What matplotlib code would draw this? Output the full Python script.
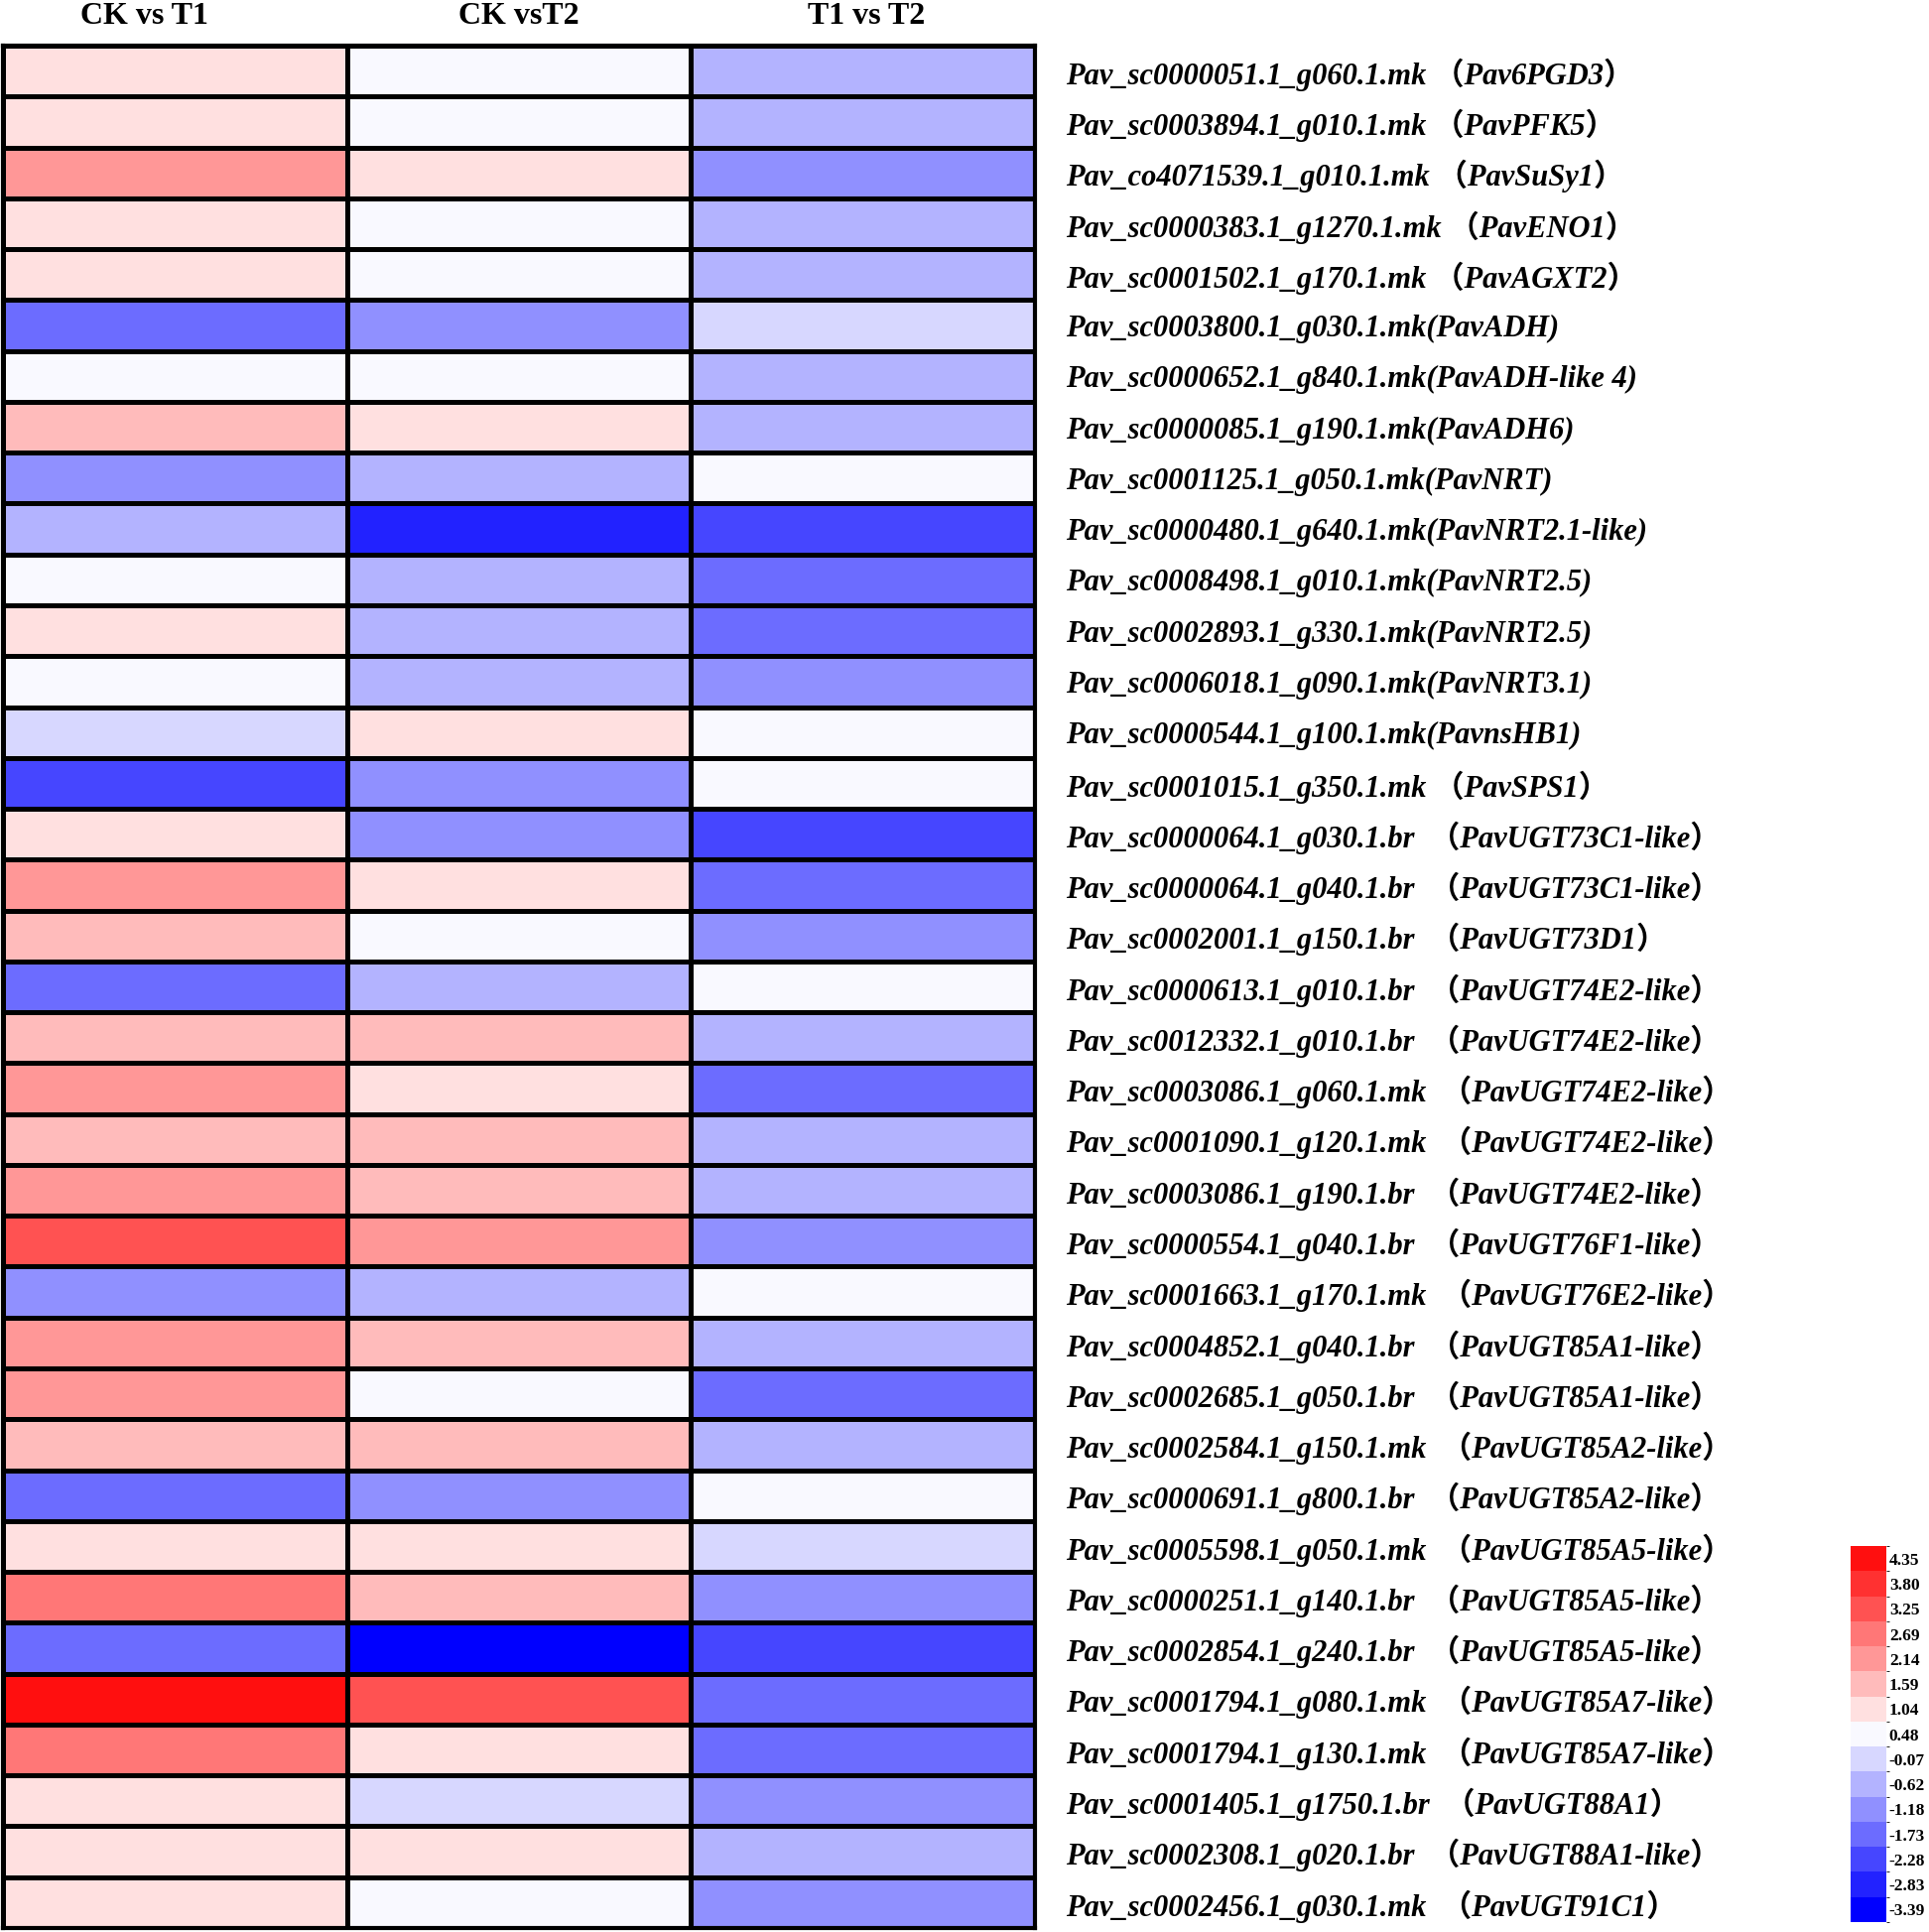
import numpy as np
import matplotlib
matplotlib.use("Agg")
import matplotlib.pyplot as plt
from matplotlib.colors import ListedColormap, BoundaryNorm

# comparaciones (columnas)
comparisons = ["CK vs T1", "CK vsT2", "T1 vs T2"]

genes = [
    "Pav_sc0000051.1_g060.1.mk （Pav6PGD3）",
    "Pav_sc0003894.1_g010.1.mk （PavPFK5）",
    "Pav_co4071539.1_g010.1.mk （PavSuSy1）",
    "Pav_sc0000383.1_g1270.1.mk （PavENO1）",
    "Pav_sc0001502.1_g170.1.mk （PavAGXT2）",
    "Pav_sc0003800.1_g030.1.mk(PavADH)",
    "Pav_sc0000652.1_g840.1.mk(PavADH-like 4)",
    "Pav_sc0000085.1_g190.1.mk(PavADH6)",
    "Pav_sc0001125.1_g050.1.mk(PavNRT)",
    "Pav_sc0000480.1_g640.1.mk(PavNRT2.1-like)",
    "Pav_sc0008498.1_g010.1.mk(PavNRT2.5)",
    "Pav_sc0002893.1_g330.1.mk(PavNRT2.5)",
    "Pav_sc0006018.1_g090.1.mk(PavNRT3.1)",
    "Pav_sc0000544.1_g100.1.mk(PavnsHB1)",
    "Pav_sc0001015.1_g350.1.mk （PavSPS1）",
    "Pav_sc0000064.1_g030.1.br  （PavUGT73C1-like）",
    "Pav_sc0000064.1_g040.1.br  （PavUGT73C1-like）",
    "Pav_sc0002001.1_g150.1.br  （PavUGT73D1）",
    "Pav_sc0000613.1_g010.1.br  （PavUGT74E2-like）",
    "Pav_sc0012332.1_g010.1.br  （PavUGT74E2-like）",
    "Pav_sc0003086.1_g060.1.mk  （PavUGT74E2-like）",
    "Pav_sc0001090.1_g120.1.mk  （PavUGT74E2-like）",
    "Pav_sc0003086.1_g190.1.br  （PavUGT74E2-like）",
    "Pav_sc0000554.1_g040.1.br  （PavUGT76F1-like）",
    "Pav_sc0001663.1_g170.1.mk  （PavUGT76E2-like）",
    "Pav_sc0004852.1_g040.1.br  （PavUGT85A1-like）",
    "Pav_sc0002685.1_g050.1.br  （PavUGT85A1-like）",
    "Pav_sc0002584.1_g150.1.mk  （PavUGT85A2-like）",
    "Pav_sc0000691.1_g800.1.br  （PavUGT85A2-like）",
    "Pav_sc0005598.1_g050.1.mk  （PavUGT85A5-like）",
    "Pav_sc0000251.1_g140.1.br  （PavUGT85A5-like）",
    "Pav_sc0002854.1_g240.1.br  （PavUGT85A5-like）",
    "Pav_sc0001794.1_g080.1.mk  （PavUGT85A7-like）",
    "Pav_sc0001794.1_g130.1.mk  （PavUGT85A7-like）",
    "Pav_sc0001405.1_g1750.1.br  （PavUGT88A1）",
    "Pav_sc0002308.1_g020.1.br  （PavUGT88A1-like）",
    "Pav_sc0002456.1_g030.1.mk  （PavUGT91C1）",
]

ck_t1 = [1.04, 1.04, 2.14, 1.04, 1.04, -1.73, 0.48, 1.59, -1.18, -0.62,
         0.48, 1.04, 0.48, -0.07, -2.28, 1.04, 2.14, 1.59, -1.73, 1.59,
         2.14, 1.59, 2.14, 3.25, -1.18, 2.14, 2.14, 1.59, -1.73, 1.04,
         2.69, -1.73, 4.35, 2.69, 1.04, 1.04, 1.04]
ck_t2 = [0.48, 0.48, 1.04, 0.48, 0.48, -1.18, 0.48, 1.04, -0.62, -2.83,
         -0.62, -0.62, -0.62, 1.04, -1.18, -1.18, 1.04, 0.48, -0.62, 1.59,
         1.04, 1.59, 1.59, 2.14, -0.62, 1.59, 0.48, 1.59, -1.18, 1.04,
         1.59, -3.39, 3.25, 1.04, -0.07, 1.04, 0.48]
t1_t2 = [-0.62, -0.62, -1.18, -0.62, -0.62, -0.07, -0.62, -0.62, 0.48, -2.28,
         -1.73, -1.73, -1.18, 0.48, 0.48, -2.28, -1.73, -1.18, 0.48, -0.62,
         -1.73, -0.62, -0.62, -1.18, 0.48, -0.62, -1.73, -0.62, 0.48, -0.07,
         -1.18, -2.28, -1.73, -1.73, -1.18, -0.62, -1.18]

# escala de color (de arriba hacia abajo en la barra)
levels = [4.35, 3.80, 3.25, 2.69, 2.14, 1.59, 1.04, 0.48,
          -0.07, -0.62, -1.18, -1.73, -2.28, -2.83, -3.39]
level_colors = ["#ff0f0f", "#ff3131", "#ff5252", "#ff7777", "#ff9797",
                "#ffbbbb", "#ffe0e0", "#f9f9ff", "#d7d7ff", "#b3b3ff",
                "#9090ff", "#6c6cff", "#4646ff", "#2222ff", "#0000ff"]

lv = np.array(levels[::-1])
bounds = np.concatenate([[lv[0] - 0.28], (lv[:-1] + lv[1:]) / 2, [lv[-1] + 0.28]])
cmap = ListedColormap(level_colors[::-1])
norm = BoundaryNorm(bounds, cmap.N)

data = np.column_stack([ck_t1, ck_t2, t1_t2])

W, H = 1944, 1947
fig = plt.figure(figsize=(W / 100, H / 100), dpi=100)
ax = fig.add_axes([3 / W, 1 - 1943 / H, 1040 / W, 1897 / H])

ax.pcolormesh(data, cmap=cmap, norm=norm, edgecolors="black", linewidth=2.4)
ax.set_xlim(0, 3)
ax.set_ylim(len(genes), 0)
for s in ax.spines.values():
    s.set_linewidth(3)

serif = ["Liberation Serif", "Noto Sans CJK SC", "DejaVu Serif"]

# encabezados (el primero algo desplazado a la izquierda como en el original)
ax.xaxis.tick_top()
ax.set_xticks([0.41, 1.5, 2.51])
ax.set_xticklabels(comparisons, fontsize=23, fontweight="bold", family=serif)
ax.tick_params(axis="x", length=0, pad=11)

ax.yaxis.tick_right()
ax.set_yticks(np.arange(len(genes)) + 0.5)
ax.set_yticklabels(genes, fontsize=22, fontweight="bold", style="italic", family=serif)
ax.tick_params(axis="y", length=0, pad=22)

# barra de color
cax = fig.add_axes([1865 / W, 1 - 1937 / H, 36 / W, 379 / H])
cb = fig.colorbar(plt.cm.ScalarMappable(norm=norm, cmap=cmap), cax=cax,
                  boundaries=bounds, ticks=lv, spacing="uniform")
cb.outline.set_visible(False)
cb.ax.set_yticklabels(["%.2f" % v for v in lv], fontsize=12.5, fontweight="bold",
                      family=serif)
cb.ax.tick_params(length=0, pad=2)

fig.savefig("out.png", dpi=100)
